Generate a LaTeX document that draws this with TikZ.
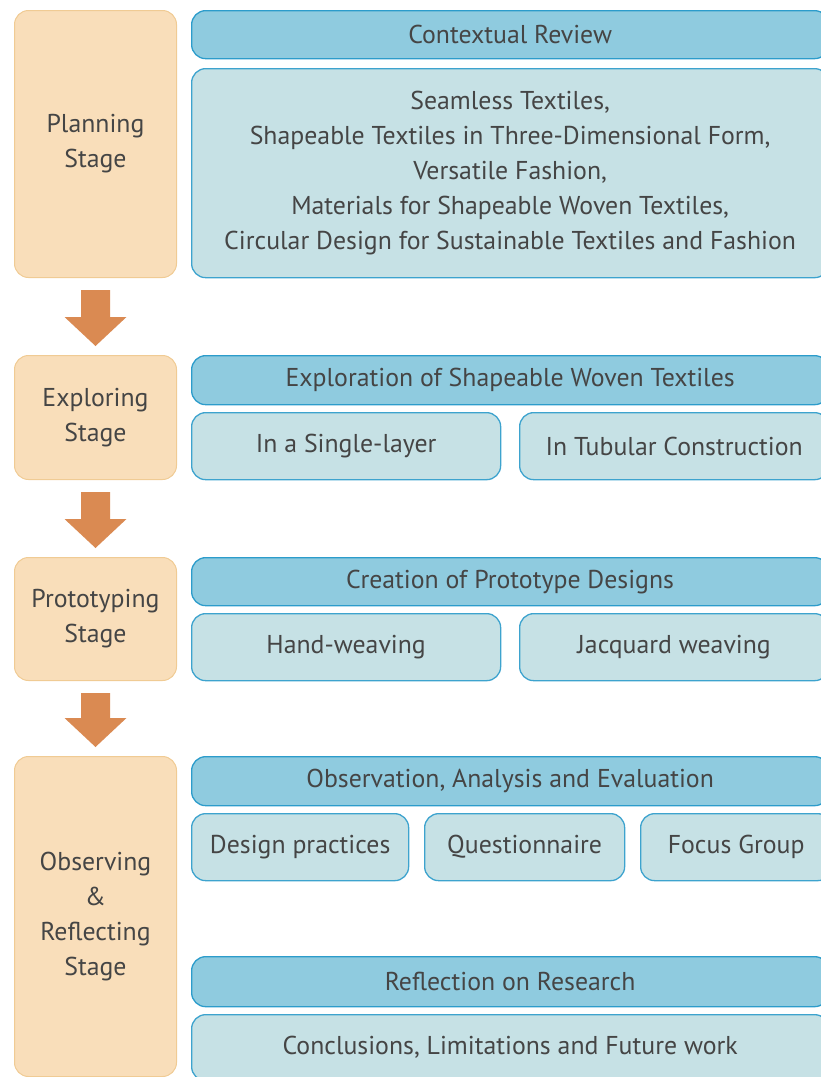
\documentclass[tikz,border=0pt]{standalone}
\usepackage{fontspec}
\setmainfont{PT Sans}
\usetikzlibrary{calc}
\definecolor{stagefill}{HTML}{F9DEBA}
\definecolor{stageline}{HTML}{F0CB94}
\definecolor{headfill}{HTML}{8FCBDF}
\definecolor{headline}{HTML}{2C9CCB}
\definecolor{subfill}{HTML}{C6E1E5}
\definecolor{subline}{HTML}{3DA3CE}
\definecolor{arrowc}{HTML}{DA8A52}
\definecolor{txt}{HTML}{454545}
\begin{document}
\begin{tikzpicture}[x=1pt,y=-1pt,
  box/.style={rounded corners=14pt, line width=1.3pt, anchor=north west, inner sep=0pt,
    text=txt, font=\fontsize{25.8}{35}\selectfont, align=center},
  stage/.style={box, fill=stagefill, draw=stageline, line width=1pt},
  head/.style={box, fill=headfill, draw=headline},
  sub/.style={box, fill=subfill, draw=subline},
  flow/.style={fill=arrowc}]
\useasboundingbox (0,0) rectangle (821,1077);
\clip (0,0) rectangle (821,1077);
% stage boxes
\node[stage, minimum width=162pt, minimum height=267pt] (plan) at (14,10) {Planning\\Stage};
\node[stage, minimum width=162pt, minimum height=124pt] (expl) at (14,355) {Exploring\\Stage};
\node[stage, minimum width=162pt, minimum height=123pt] (prot) at (14,557) {Prototyping\\Stage};
\node[stage, minimum width=162pt, minimum height=320pt] (obs) at (14,756) {Observing\\\&\\Reflecting\\Stage};
% planning
\node[head, minimum width=637pt, minimum height=48pt] (ctx) at (191,10) {Contextual Review};
\node[sub, minimum width=637pt, minimum height=209pt] (ctxc) at (191,68) {Seamless Textiles,\\Shapeable Textiles in Three-Dimensional Form,\\Versatile Fashion,\\Materials for Shapeable Woven Textiles,\\Circular Design for Sustainable Textiles and Fashion};
% exploring
\node[head, minimum width=637pt, minimum height=49pt] (exh) at (191,355) {Exploration of Shapeable Woven Textiles};
\node[sub, minimum width=309pt, minimum height=67pt] (single) at (191,412) {In a Single-layer};
\node[sub, minimum width=309pt, minimum height=67pt] (tubular) at (519,412) {In Tubular Construction};
% prototyping
\node[head, minimum width=637pt, minimum height=48pt] (prh) at (191,557) {Creation of Prototype Designs};
\node[sub, minimum width=309pt, minimum height=67pt] (hand) at (191,613) {Hand-weaving};
\node[sub, minimum width=309pt, minimum height=67pt] (jacq) at (519,613) {Jacquard weaving};
% observing
\node[head, minimum width=637pt, minimum height=49pt] (obh) at (191,756) {Observation, Analysis and Evaluation};
\node[sub, minimum width=217pt, minimum height=67pt] (design) at (191,813) {Design practices};
\node[sub, minimum width=200pt, minimum height=67pt] (quest) at (424,813) {Questionnaire};
\node[sub, minimum width=191pt, minimum height=67pt] (focus) at (640,813) {Focus Group};
\node[head, minimum width=637pt, minimum height=50pt] (refh) at (191,956) {Reflection on Research};
\node[sub, minimum width=637pt, minimum height=66pt] (concl) at (191,1014) {Conclusions, Limitations and Future work};
% arrows between stages
\foreach \a/\b in {plan/expl, expl/prot, prot/obs}{
  \fill[flow] ($(\a.south)+(-14.5,12)$) -- ($(\a.south)+(14.5,12)$) -- ($(\b.north)+(14.5,-38)$)
    -- ($(\b.north)+(31,-38)$) -- ($(\b.north)+(0,-9)$) -- ($(\b.north)+(-31,-38)$)
    -- ($(\b.north)+(-14.5,-38)$) -- cycle;
}
\end{tikzpicture}
\end{document}
